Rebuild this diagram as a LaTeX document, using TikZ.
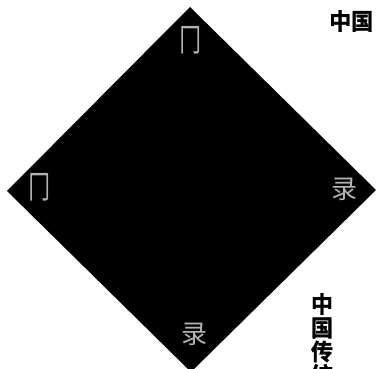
\documentclass[tikz,border=0pt]{standalone}
\usepackage{fontspec}
\newfontfamily\cjk{Noto Sans CJK SC}
\newfontfamily\cjkb[FakeBold=1.2]{Noto Sans CJK SC Bold}
\tikzset{
  corner/.style={text=white!70!black,font=\cjk\fontsize{26}{26}\selectfont,inner sep=0pt},
  tallcorner/.style={corner,yscale=1.25,xscale=0.85},
  heading/.style={text=black,font=\cjkb\fontsize{22}{22}\selectfont,inner sep=0pt,yscale=1.05}
}
\begin{document}
\begin{tikzpicture}[x=1pt,y=-1pt]
\useasboundingbox (0,0) rectangle (376,369);
\clip (0,0) rectangle (376,369);
\fill[white] (0,0) rectangle (376,369);
\fill[black] (190,7) -- (376,190) -- (191,372) -- (7,191) -- cycle;
\node[tallcorner] (top) at (191,40) {冂};
\node[tallcorner] (left) at (40,187) {冂};
\node[corner] (right) at (344,189) {录};
\node[corner] (bottom) at (195,334) {录};
\node[heading,anchor=west] (title) at (329,21) {中国};
\node[heading] (v1) at (322,304) {中};
\node[heading] (v2) at (322,328) {国};
\node[heading] (v3) at (322,351.5) {传};
\node[heading] (v4) at (322,375) {统};
\end{tikzpicture}
\end{document}
